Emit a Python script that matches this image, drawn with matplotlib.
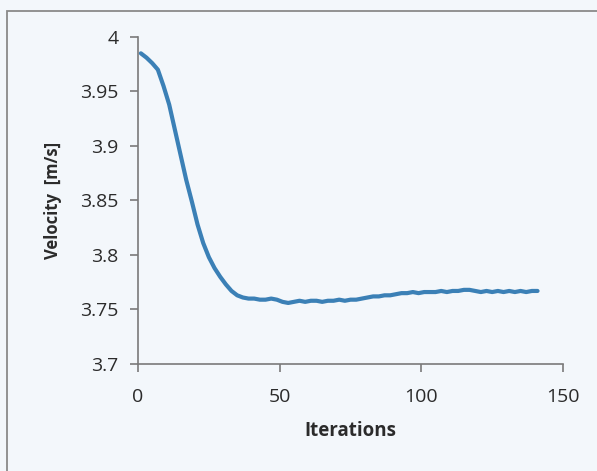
import matplotlib.pyplot as plt
from matplotlib.patches import Rectangle

# --- Data
iterations = [1, 3, 5, 7, 9, 11, 13, 15, 17, 19, 21, 23, 25, 27, 29, 31, 33, 35, 37, 39,
              41, 43, 45, 47, 49, 51, 53, 55, 57, 59, 61, 63, 65, 67, 69, 71, 73, 75, 77, 79,
              81, 83, 85, 87, 89, 91, 93, 95, 97, 99, 101, 103, 105, 107, 109, 111, 113, 115,
              117, 119, 121, 123, 125, 127, 129, 131, 133, 135, 137, 139, 141]
velocity = [3.985, 3.981, 3.976, 3.970, 3.955, 3.938, 3.915, 3.892, 3.869, 3.849,
            3.828, 3.811, 3.798, 3.788, 3.780, 3.773, 3.767, 3.763, 3.761, 3.760,
            3.760, 3.759, 3.759, 3.760, 3.759, 3.757, 3.756, 3.757, 3.758, 3.757,
            3.758, 3.758, 3.757, 3.758, 3.758, 3.759, 3.758, 3.759, 3.759, 3.760,
            3.761, 3.762, 3.762, 3.763, 3.763, 3.764, 3.765, 3.765, 3.766, 3.765,
            3.766, 3.766, 3.766, 3.767, 3.766, 3.767, 3.767, 3.768, 3.768, 3.767,
            3.766, 3.767, 3.766, 3.767, 3.766, 3.767, 3.766, 3.767, 3.766, 3.767, 3.767]

xticks = [0, 50, 100, 150]
yticks = [3.7, 3.75, 3.8, 3.85, 3.9, 3.95, 4]
ytick_labels = ["3.7", "3.75", "3.8", "3.85", "3.9", "3.95", "4"]

bg = "#f3f7fb"
axis_grey = "#7a7a7a"
text_col = "#2b2b2b"
plt.rcParams['font.family'] = ['Open Sans', 'DejaVu Sans']

fig = plt.figure(figsize=(5.97, 4.71), dpi=100, facecolor=bg)
ax = fig.add_axes([0.2312, 0.2272, 0.7119, 0.6943], facecolor=bg)

ax.plot(iterations, velocity, color="#3b80b6", lw=3.0, solid_capstyle='round')

ax.set_xlim(0, 150)
ax.set_ylim(3.7, 4.0)
ax.set_xticks(xticks)
ax.set_yticks(yticks)
ax.set_yticklabels(ytick_labels)

for s in ['top', 'right']:
    ax.spines[s].set_visible(False)
for s in ['left', 'bottom']:
    ax.spines[s].set_color(axis_grey)
    ax.spines[s].set_linewidth(1.2)

ax.tick_params(direction='out', length=6, width=1.2, color=axis_grey,
               labelsize=14, labelcolor=text_col)
ax.tick_params(axis='x', pad=11)
ax.tick_params(axis='y', pad=8)

ax.set_xlabel("Iterations", fontsize=13.5, fontweight='bold', color=text_col, labelpad=11)
ax.set_ylabel("Velocity  [m/s]", fontsize=12, fontweight='bold', color=text_col, labelpad=13)

# outer chart frame (cut off at right and bottom in the scan)
fig.patches.append(Rectangle((7 / 597, -0.05), 1.1, 1 - 11 / 471 + 0.05,
                             transform=fig.transFigure, fill=False,
                             edgecolor="#8a8a8a", lw=1.3))

fig.savefig("out.png", dpi=100, facecolor=bg)
